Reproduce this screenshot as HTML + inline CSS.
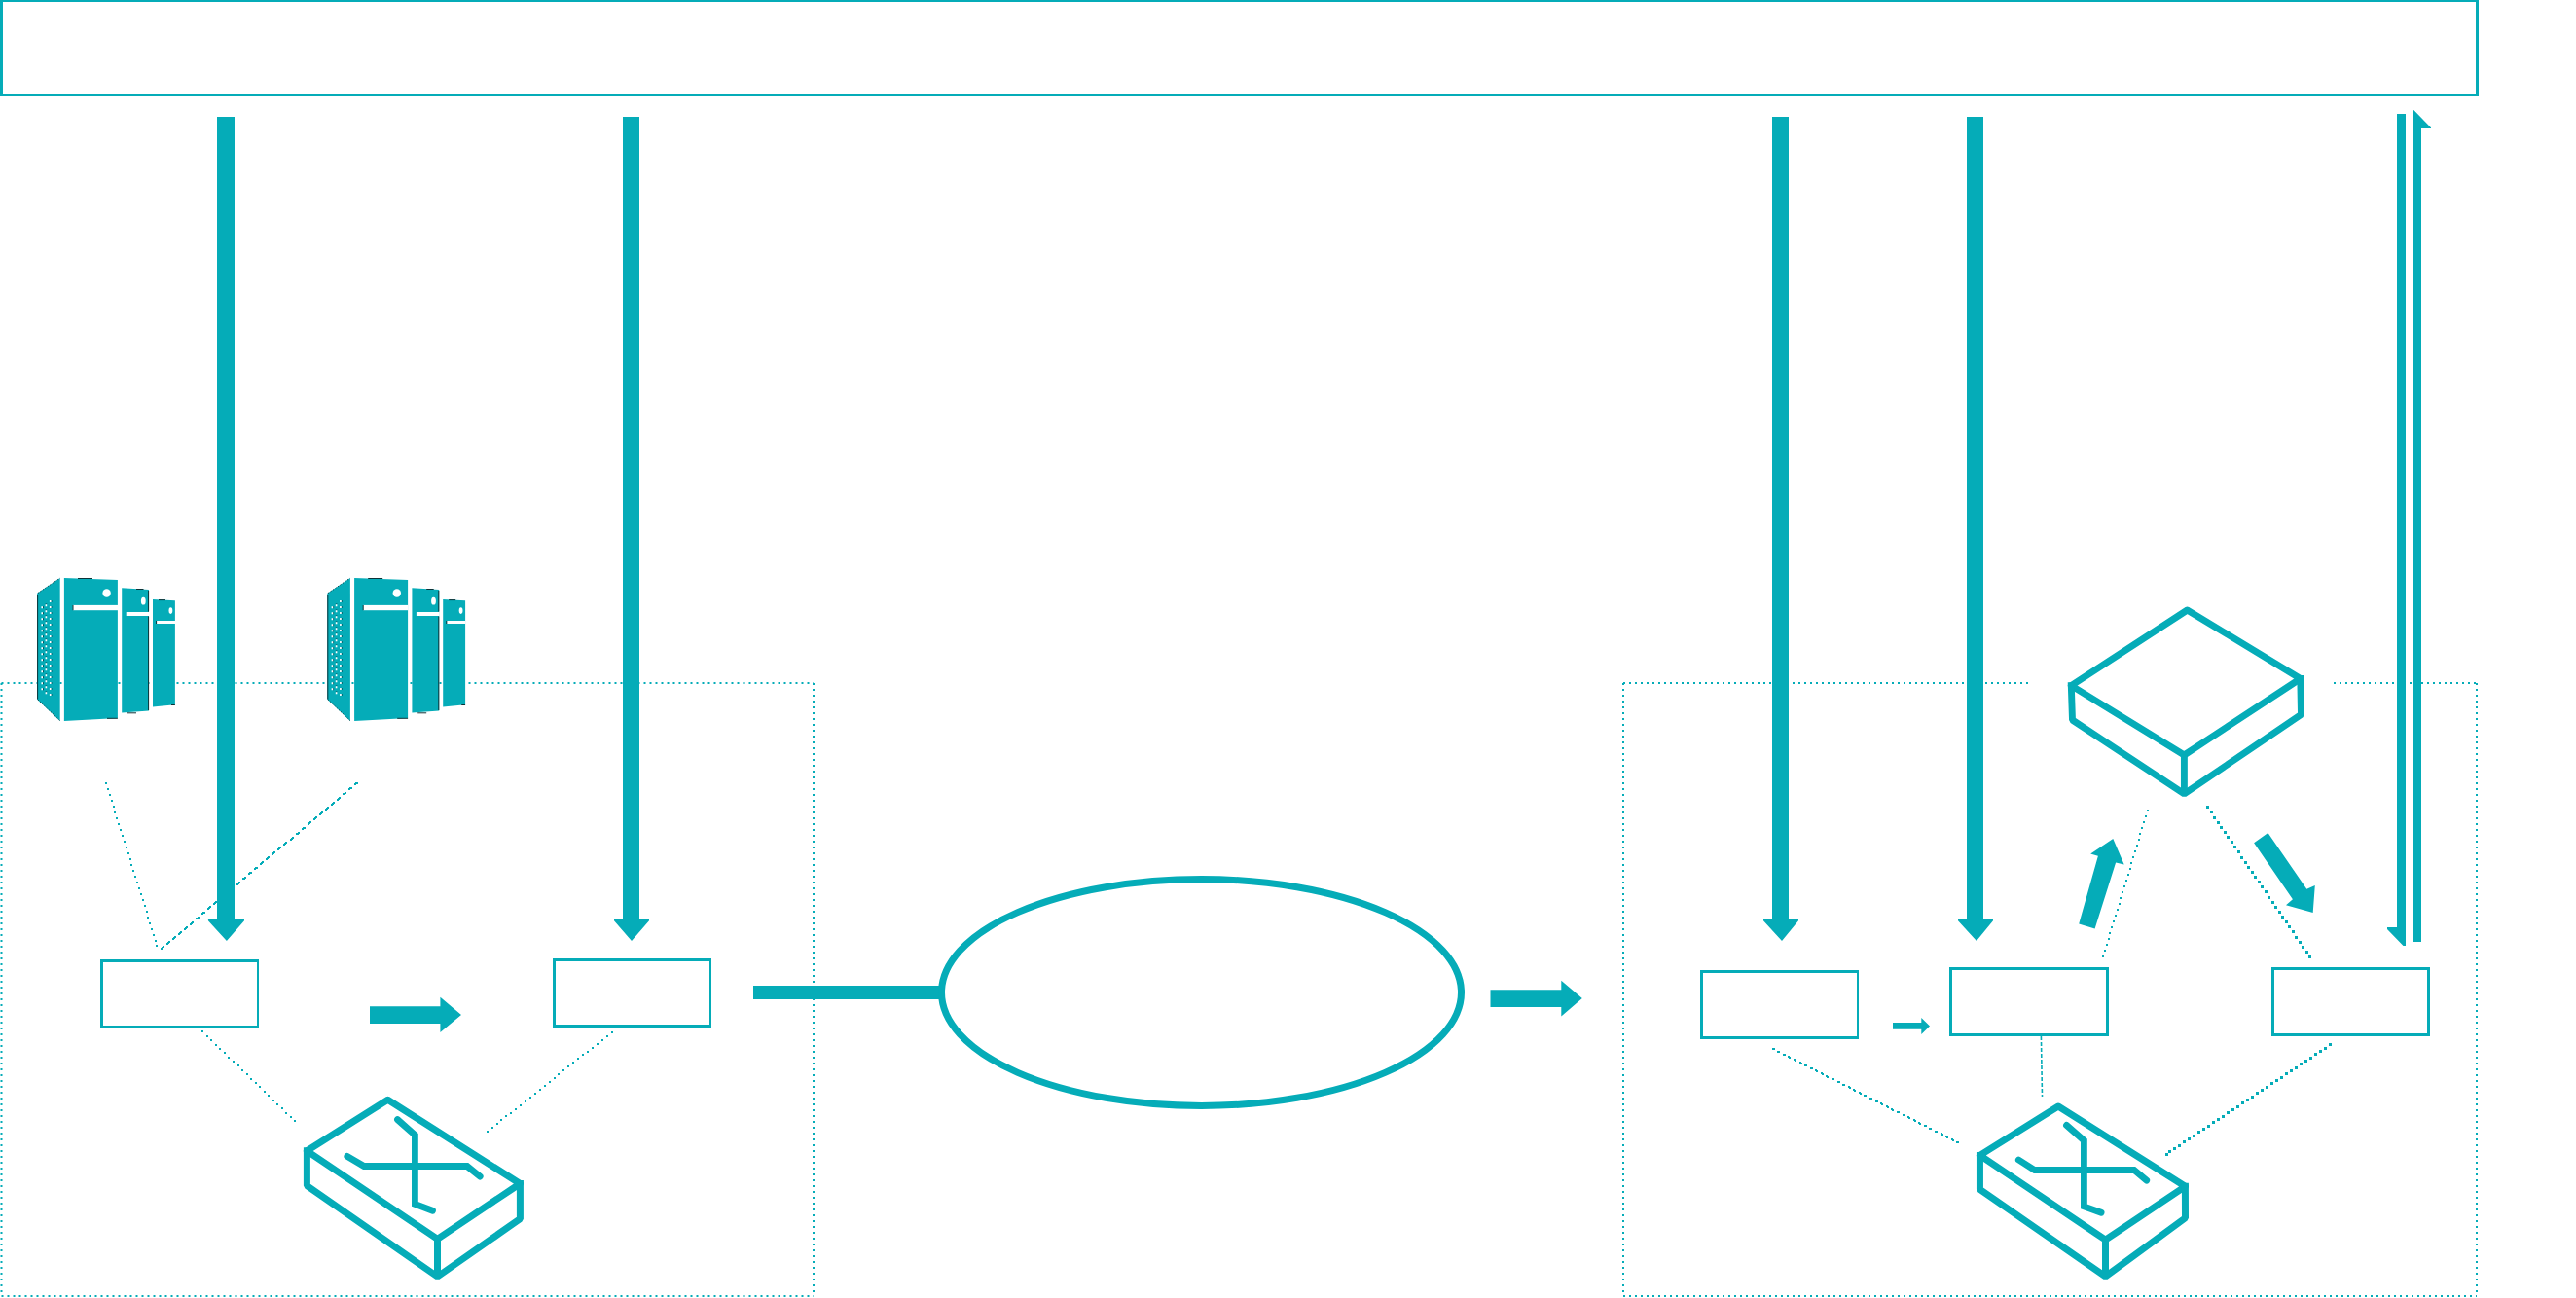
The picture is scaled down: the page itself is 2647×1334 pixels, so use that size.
<!DOCTYPE html>
<html><head><meta charset="utf-8"><style>
html,body{margin:0;padding:0;background:#fff;}
body{width:2647px;height:1334px;overflow:hidden;font-family:"Liberation Sans",sans-serif;}
svg{display:block;}
</style></head><body>
<svg width="2647" height="1334" viewBox="0 0 2647 1334">
<path d="M1.5 702H836M1.5 702V1332M836 702V1332M1.5 1332H836" stroke="#05acb8" stroke-width="2" stroke-dasharray="2 4" fill="none"/>
<path d="M1668 702H2087M2398 702H2545M1668 702V1332M2545 702V1332M1668 1332H2545" stroke="#05acb8" stroke-width="2" stroke-dasharray="2 4" fill="none"/>
<path d="M108 804h2v2h-2zM110 810h2v2h-2zM112 816h2v2h-2zM114 822h2v2h-2zM116 828h2v2h-2zM117 834h2v2h-2zM119 840h2v2h-2zM121 846h2v2h-2zM123 852h2v2h-2zM125 858h2v2h-2zM127 864h2v2h-2zM129 870h2v2h-2zM131 876h2v2h-2zM133 882h2v2h-2zM134 888h2v2h-2zM136 894h2v2h-2zM138 900h2v2h-2zM140 906h2v2h-2zM142 912h2v2h-2zM144 918h2v2h-2zM146 924h2v2h-2zM148 930h2v2h-2zM150 936h2v2h-2zM151 942h2v2h-2zM153 948h2v2h-2zM155 954h2v2h-2zM157 960h2v2h-2zM159 966h2v2h-2zM160 971h2v2h-2z" fill="#05acb8" shape-rendering="crispEdges"/>
<path d="M366 804h2v2h-2zM365 804h2v2h-2zM364 805h2v2h-2zM360 809h2v2h-2zM359 809h2v2h-2zM358 810h2v2h-2zM354 814h2v2h-2zM353 815h2v2h-2zM352 815h2v2h-2zM348 819h2v2h-2zM347 820h2v2h-2zM346 821h2v2h-2zM342 824h2v2h-2zM341 825h2v2h-2zM340 826h2v2h-2zM336 829h2v2h-2zM335 830h2v2h-2zM334 831h2v2h-2zM330 834h2v2h-2zM329 835h2v2h-2zM328 836h2v2h-2zM324 839h2v2h-2zM323 840h2v2h-2zM322 841h2v2h-2zM318 844h2v2h-2zM317 845h2v2h-2zM316 846h2v2h-2zM312 850h2v2h-2zM311 850h2v2h-2zM310 851h2v2h-2zM306 855h2v2h-2zM305 856h2v2h-2zM304 856h2v2h-2zM300 860h2v2h-2zM299 861h2v2h-2zM298 862h2v2h-2zM293 865h2v2h-2zM292 866h2v2h-2zM291 867h2v2h-2zM287 870h2v2h-2zM286 871h2v2h-2zM285 872h2v2h-2zM281 875h2v2h-2zM280 876h2v2h-2zM279 877h2v2h-2zM275 880h2v2h-2zM274 881h2v2h-2zM273 882h2v2h-2zM269 885h2v2h-2zM268 886h2v2h-2zM267 887h2v2h-2zM263 891h2v2h-2zM262 891h2v2h-2zM261 892h2v2h-2zM257 896h2v2h-2zM256 896h2v2h-2zM255 897h2v2h-2zM251 901h2v2h-2zM250 902h2v2h-2zM249 902h2v2h-2zM245 906h2v2h-2zM244 907h2v2h-2zM243 908h2v2h-2zM239 911h2v2h-2zM238 912h2v2h-2zM237 913h2v2h-2zM233 916h2v2h-2zM232 917h2v2h-2zM231 918h2v2h-2zM227 921h2v2h-2zM226 922h2v2h-2zM225 923h2v2h-2zM221 926h2v2h-2zM220 927h2v2h-2zM219 928h2v2h-2zM215 931h2v2h-2zM214 932h2v2h-2zM213 933h2v2h-2zM209 937h2v2h-2zM208 937h2v2h-2zM207 938h2v2h-2zM203 942h2v2h-2zM202 943h2v2h-2zM201 943h2v2h-2zM197 947h2v2h-2zM196 948h2v2h-2zM195 949h2v2h-2zM191 952h2v2h-2zM190 953h2v2h-2zM189 954h2v2h-2zM185 957h2v2h-2zM184 958h2v2h-2zM183 959h2v2h-2zM179 962h2v2h-2zM178 963h2v2h-2zM177 964h2v2h-2zM173 967h2v2h-2zM172 968h2v2h-2zM171 969h2v2h-2zM167 972h2v2h-2zM166 973h2v2h-2zM165 974h2v2h-2z" fill="#05acb8" shape-rendering="crispEdges"/>
<path d="M207 1059h2v2h-2zM212 1064h2v2h-2zM216 1068h2v2h-2zM221 1073h2v2h-2zM225 1077h2v2h-2zM230 1081h2v2h-2zM234 1086h2v2h-2zM239 1090h2v2h-2zM244 1094h2v2h-2zM248 1099h2v2h-2zM253 1103h2v2h-2zM257 1108h2v2h-2zM262 1112h2v2h-2zM266 1116h2v2h-2zM271 1121h2v2h-2zM275 1125h2v2h-2zM280 1130h2v2h-2zM284 1134h2v2h-2zM289 1138h2v2h-2zM293 1143h2v2h-2zM298 1147h2v2h-2zM302 1151h2v2h-2z" fill="#05acb8" shape-rendering="crispEdges"/>
<path d="M628 1060h2v2h-2zM623 1064h2v2h-2zM618 1068h2v2h-2zM613 1072h2v2h-2zM608 1076h2v2h-2zM603 1080h2v2h-2zM598 1083h2v2h-2zM593 1087h2v2h-2zM588 1091h2v2h-2zM583 1095h2v2h-2zM578 1099h2v2h-2zM573 1103h2v2h-2zM569 1107h2v2h-2zM564 1111h2v2h-2zM559 1115h2v2h-2zM554 1119h2v2h-2zM549 1123h2v2h-2zM544 1127h2v2h-2zM539 1131h2v2h-2zM534 1135h2v2h-2zM529 1139h2v2h-2zM524 1143h2v2h-2zM519 1146h2v2h-2zM514 1150h2v2h-2zM510 1154h2v2h-2zM505 1158h2v2h-2zM500 1162h2v2h-2z" fill="#05acb8" shape-rendering="crispEdges"/>
<path d="M1821 1077h2v2h-2zM1822 1077h2v2h-2zM1826 1080h2v2h-2zM1827 1080h2v2h-2zM1832 1083h2v2h-2zM1833 1083h2v2h-2zM1837 1085h2v2h-2zM1838 1086h2v2h-2zM1843 1088h2v2h-2zM1844 1089h2v2h-2zM1849 1091h2v2h-2zM1850 1092h2v2h-2zM1854 1094h2v2h-2zM1855 1094h2v2h-2zM1860 1097h2v2h-2zM1861 1097h2v2h-2zM1865 1099h2v2h-2zM1866 1100h2v2h-2zM1871 1102h2v2h-2zM1872 1103h2v2h-2zM1876 1105h2v2h-2zM1877 1106h2v2h-2zM1882 1108h2v2h-2zM1883 1108h2v2h-2zM1888 1111h2v2h-2zM1889 1111h2v2h-2zM1893 1114h2v2h-2zM1894 1114h2v2h-2zM1899 1116h2v2h-2zM1900 1117h2v2h-2zM1904 1119h2v2h-2zM1905 1120h2v2h-2zM1910 1122h2v2h-2zM1911 1123h2v2h-2zM1915 1125h2v2h-2zM1916 1125h2v2h-2zM1921 1128h2v2h-2zM1922 1128h2v2h-2zM1927 1131h2v2h-2zM1928 1131h2v2h-2zM1932 1133h2v2h-2zM1933 1134h2v2h-2zM1938 1136h2v2h-2zM1939 1137h2v2h-2zM1943 1139h2v2h-2zM1944 1140h2v2h-2zM1949 1142h2v2h-2zM1950 1142h2v2h-2zM1955 1145h2v2h-2zM1956 1145h2v2h-2zM1960 1147h2v2h-2zM1961 1148h2v2h-2zM1966 1150h2v2h-2zM1967 1151h2v2h-2zM1971 1153h2v2h-2zM1972 1154h2v2h-2zM1977 1156h2v2h-2zM1978 1156h2v2h-2zM1982 1159h2v2h-2zM1983 1159h2v2h-2zM1988 1162h2v2h-2zM1989 1162h2v2h-2zM1994 1164h2v2h-2zM1995 1165h2v2h-2zM1999 1167h2v2h-2zM2000 1168h2v2h-2zM2005 1170h2v2h-2zM2006 1171h2v2h-2zM2010 1173h2v2h-2zM2011 1173h2v2h-2z" fill="#05acb8" shape-rendering="crispEdges"/>
<line x1="2097.4" y1="1065" x2="2098.5" y2="1127" stroke="#05acb8" stroke-width="1.6" stroke-dasharray="4 2"/>
<path d="M2393 1072h2.8v2.8h-2.8zM2388 1076h2.8v2.8h-2.8zM2383 1079h2.8v2.8h-2.8zM2378 1082h2.8v2.8h-2.8zM2373 1086h2.8v2.8h-2.8zM2368 1089h2.8v2.8h-2.8zM2363 1092h2.8v2.8h-2.8zM2358 1096h2.8v2.8h-2.8zM2353 1099h2.8v2.8h-2.8zM2348 1102h2.8v2.8h-2.8zM2343 1106h2.8v2.8h-2.8zM2338 1109h2.8v2.8h-2.8zM2333 1112h2.8v2.8h-2.8zM2328 1116h2.8v2.8h-2.8zM2323 1119h2.8v2.8h-2.8zM2318 1122h2.8v2.8h-2.8zM2313 1126h2.8v2.8h-2.8zM2308 1129h2.8v2.8h-2.8zM2303 1132h2.8v2.8h-2.8zM2298 1136h2.8v2.8h-2.8zM2293 1139h2.8v2.8h-2.8zM2288 1142h2.8v2.8h-2.8zM2283 1146h2.8v2.8h-2.8zM2278 1149h2.8v2.8h-2.8zM2273 1152h2.8v2.8h-2.8zM2268 1156h2.8v2.8h-2.8zM2263 1159h2.8v2.8h-2.8zM2258 1162h2.8v2.8h-2.8zM2253 1166h2.8v2.8h-2.8zM2248 1169h2.8v2.8h-2.8zM2243 1172h2.8v2.8h-2.8zM2238 1176h2.8v2.8h-2.8zM2233 1179h2.8v2.8h-2.8zM2228 1182h2.8v2.8h-2.8zM2225 1185h2.8v2.8h-2.8z" fill="#05acb8" shape-rendering="crispEdges"/>
<path d="M2160 982h2.2v2.2h-2.2zM2162 976h2.2v2.2h-2.2zM2164 970h2.2v2.2h-2.2zM2166 964h2.2v2.2h-2.2zM2167 958h2.2v2.2h-2.2zM2169 952h2.2v2.2h-2.2zM2171 946h2.2v2.2h-2.2zM2173 940h2.2v2.2h-2.2zM2175 934h2.2v2.2h-2.2zM2177 928h2.2v2.2h-2.2zM2178 922h2.2v2.2h-2.2zM2180 916h2.2v2.2h-2.2zM2182 910h2.2v2.2h-2.2zM2184 904h2.2v2.2h-2.2zM2186 898h2.2v2.2h-2.2zM2188 892h2.2v2.2h-2.2zM2189 886h2.2v2.2h-2.2zM2191 880h2.2v2.2h-2.2zM2193 874h2.2v2.2h-2.2zM2195 868h2.2v2.2h-2.2zM2197 862h2.2v2.2h-2.2zM2198 856h2.2v2.2h-2.2zM2200 850h2.2v2.2h-2.2zM2202 844h2.2v2.2h-2.2zM2204 838h2.2v2.2h-2.2zM2206 832h2.2v2.2h-2.2z" fill="#05acb8" shape-rendering="crispEdges"/>
<path d="M2267 828h2.6v2.6h-2.6zM2271 833h2.6v2.6h-2.6zM2274 839h2.6v2.6h-2.6zM2278 844h2.6v2.6h-2.6zM2281 849h2.6v2.6h-2.6zM2285 854h2.6v2.6h-2.6zM2288 859h2.6v2.6h-2.6zM2292 864h2.6v2.6h-2.6zM2295 869h2.6v2.6h-2.6zM2299 874h2.6v2.6h-2.6zM2302 880h2.6v2.6h-2.6zM2306 885h2.6v2.6h-2.6zM2309 890h2.6v2.6h-2.6zM2313 895h2.6v2.6h-2.6zM2316 900h2.6v2.6h-2.6zM2320 905h2.6v2.6h-2.6zM2323 910h2.6v2.6h-2.6zM2327 915h2.6v2.6h-2.6zM2330 921h2.6v2.6h-2.6zM2334 926h2.6v2.6h-2.6zM2337 931h2.6v2.6h-2.6zM2341 936h2.6v2.6h-2.6zM2344 941h2.6v2.6h-2.6zM2348 946h2.6v2.6h-2.6zM2351 951h2.6v2.6h-2.6zM2355 956h2.6v2.6h-2.6zM2358 962h2.6v2.6h-2.6zM2362 967h2.6v2.6h-2.6zM2365 972h2.6v2.6h-2.6zM2369 977h2.6v2.6h-2.6zM2372 982h2.6v2.6h-2.6z" fill="#05acb8" shape-rendering="crispEdges"/>
<path d="M0 0H2547V2H0Z M0 97H2547V99H0Z M0 0H3V99H0Z M2544 0H2547V99H2544Z" fill="#05acb8"/>
<polygon points="223,120 241,120 241,945 251,945 251,946.3 232.9,967 213.9,946.3 213.9,945 223,945" fill="#05acb8"/>
<polygon points="640,120 657,120 657,945 667,945 667,946.3 649,967 631,946.3 631,945 640,945" fill="#05acb8"/>
<polygon points="1821,120 1838,120 1838,945 1848,945 1848,946.3 1831,967 1812,946.3 1812,945 1821,945" fill="#05acb8"/>
<polygon points="2021,120 2038,120 2038,945 2048,945 2048,946.3 2031,967 2012,946.3 2012,945 2021,945" fill="#05acb8"/>
<polygon points="2463,117 2472,117 2472,972 2469.5,972 2453,955 2453,953 2463,953" fill="#05acb8"/>
<polygon points="2479,968 2488,968 2488,132 2498,132 2498,131.2 2480.3,113 2479,114.5" fill="#05acb8"/>
<polygon points="380,1034.2 452.4,1034.2 452.4,1024.7 474,1043 452.4,1061.1 452.4,1052 380,1052" fill="#05acb8"/>
<polygon points="1531.5,1017.2 1604.3,1017.2 1604.3,1007.7 1625.8,1026 1604.3,1044.4 1604.3,1034.9 1531.5,1034.9" fill="#05acb8"/>
<polygon points="1945,1051 1974.3,1051 1974.3,1045.9 1983,1054.4 1974.3,1062.9 1974.3,1057.8 1945,1057.8" fill="#05acb8"/>
<rect x="774" y="1013" width="193" height="14" fill="#05acb8"/>
<ellipse cx="1234.5" cy="1020" rx="267" ry="116.5" fill="none" stroke="#05acb8" stroke-width="7"/>
<path d="M103 986H266V989H103Z M103 1054H266V1057H103Z M103 986H106V1057H103Z M264 986H266V1057H264Z" fill="#05acb8"/>
<path d="M568 985H731V988H568Z M568 1053H731V1056H568Z M568 985H571V1056H568Z M729 985H731V1056H729Z" fill="#05acb8"/>
<path d="M1747 997H1910V1000H1747Z M1747 1065H1910V1068H1747Z M1747 997H1750V1068H1747Z M1908 997H1910V1068H1908Z" fill="#05acb8"/>
<path d="M2003 994H2167V997H2003Z M2003 1062H2167V1065H2003Z M2003 994H2006V1065H2003Z M2164 994H2167V1065H2164Z" fill="#05acb8"/>
<path d="M2334 994H2497V997H2334Z M2334 1062H2497V1065H2334Z M2334 994H2337V1065H2334Z M2494 994H2497V1065H2494Z" fill="#05acb8"/>
<polygon points="2136.2,949.4 2155.9,879.8 2148.2,877.5 2171.3,862 2182.7,888.4 2174.1,886.4 2152.6,954.5" fill="#05acb8"/>
<polygon points="2316.1,866.3 2330.5,856.1 2370.3,913.7 2378.8,909.9 2376.7,937.9 2349,930.3 2355.9,924.3" fill="#05acb8"/>
<path d="M2247.5 627L2363.8 697.5L2244.4 776L2128.3 704.6Z" fill="none" stroke="#05acb8" stroke-width="6.9" stroke-linejoin="round"/><path d="M2128.3 704.6L2129.5 740L2244.4 815.9L2364.5 734.4L2363.8 697.5" fill="none" stroke="#05acb8" stroke-width="6.9" stroke-linejoin="bevel" stroke-linecap="square"/><path d="M2244.4 776L2244.4 815.9" fill="none" stroke="#05acb8" stroke-width="6.9"/>
<path d="M398.5 1130.3L534.4 1216.5L449.5 1273.3L315.4 1182.8Z" fill="none" stroke="#05acb8" stroke-width="7.0" stroke-linejoin="round"/><path d="M315.4 1182.8L315.4 1218.6L449.5 1312L534.4 1252.7L534.4 1216.5" fill="none" stroke="#05acb8" stroke-width="7.0" stroke-linejoin="bevel" stroke-linecap="square"/><path d="M449.5 1273.3L449.5 1312" fill="none" stroke="#05acb8" stroke-width="7.0"/><path d="M356.8 1188.3L374 1198.5L480 1198.5L493.2 1209.1 M408.5 1150.6L426.4 1166.5L426.4 1237.5L444.5 1244.2" fill="none" stroke="#05acb8" stroke-width="6.8" stroke-linecap="round" stroke-linejoin="miter"/>
<path d="M2115 1137L2245.4 1219.3L2163.5 1274.2L2034.45 1187.4Z" fill="none" stroke="#05acb8" stroke-width="7.0" stroke-linejoin="round"/><path d="M2034.45 1187.4L2034.45 1222.4L2163.5 1311.9L2245.5 1251.8L2245.4 1219.3" fill="none" stroke="#05acb8" stroke-width="7.0" stroke-linejoin="bevel" stroke-linecap="square"/><path d="M2163.5 1274.2L2163.5 1311.9" fill="none" stroke="#05acb8" stroke-width="7.0"/><path d="M2074.3 1192L2090.8 1202.5L2192.9 1202.5L2205.7 1213.2 M2123.5 1156.4L2141.4 1172.1L2141.4 1239.9L2159.1 1246.3" fill="none" stroke="#05acb8" stroke-width="6.8" stroke-linecap="round" stroke-linejoin="miter"/>
<g transform="translate(0,0)"><polygon points="38.1,609.8 61.7,593.9 61.7,740.9 38.1,718.7" fill="#05acb8"/><polygon points="65.9,593.9 120.9,596 120.9,738.1 65.9,740.9" fill="#05acb8"/><polygon points="125.2,604.3 153,606 153,730.5 125.2,732.6" fill="#05acb8"/><polygon points="157,616 179.9,617.2 179.9,724.2 157,726.6" fill="#05acb8"/><circle cx="109.6" cy="609.5" r="4.2" fill="#fff"/><rect x="74.9" y="621.9" width="46.2" height="5.3" fill="#fff"/><ellipse cx="147.3" cy="617.7" rx="2.4" ry="3.9" fill="#fff"/><rect x="129.7" y="629" width="23.5" height="4" fill="#fff"/><ellipse cx="175.4" cy="627.6" rx="1.9" ry="3.3" fill="#fff"/><rect x="160.9" y="638" width="19.2" height="3" fill="#fff"/><path d="M44.0 623.3h0.9v2h-0.9zM44.0 629.3h0.9v2h-0.9zM44.0 635.3h0.9v2h-0.9zM44.0 641.3h0.9v2h-0.9zM44.0 647.3h0.9v2h-0.9zM44.0 653.3h0.9v2h-0.9zM44.0 659.3h0.9v2h-0.9zM44.0 665.3h0.9v2h-0.9zM44.0 671.3h0.9v2h-0.9zM44.0 677.3h0.9v2h-0.9zM44.0 683.3h0.9v2h-0.9zM44.0 689.3h0.9v2h-0.9zM44.0 695.3h0.9v2h-0.9zM44.0 701.3h0.9v2h-0.9zM44.0 707.3h0.9v2h-0.9zM46.6 620.4h1.6v0.9h-1.6zM46.6 626.4h1.6v0.9h-1.6zM46.6 632.4h1.6v0.9h-1.6zM46.6 638.4h1.6v0.9h-1.6zM46.6 644.4h1.6v0.9h-1.6zM46.6 650.4h1.6v0.9h-1.6zM46.6 656.4h1.6v0.9h-1.6zM46.6 662.4h1.6v0.9h-1.6zM46.6 668.4h1.6v0.9h-1.6zM46.6 674.4h1.6v0.9h-1.6zM46.6 680.4h1.6v0.9h-1.6zM46.6 686.4h1.6v0.9h-1.6zM46.6 692.4h1.6v0.9h-1.6zM46.6 698.4h1.6v0.9h-1.6zM46.6 704.4h1.6v0.9h-1.6zM46.6 710.4h1.6v0.9h-1.6zM52.5 617.0h0.9v2h-0.9zM52.5 623.0h0.9v2h-0.9zM52.5 629.0h0.9v2h-0.9zM52.5 635.0h0.9v2h-0.9zM52.5 641.0h0.9v2h-0.9zM52.5 647.0h0.9v2h-0.9zM52.5 653.0h0.9v2h-0.9zM52.5 659.0h0.9v2h-0.9zM52.5 665.0h0.9v2h-0.9zM52.5 671.0h0.9v2h-0.9zM52.5 677.0h0.9v2h-0.9zM52.5 683.0h0.9v2h-0.9zM52.5 689.0h0.9v2h-0.9zM52.5 695.0h0.9v2h-0.9zM52.5 701.0h0.9v2h-0.9zM52.5 707.0h0.9v2h-0.9zM52.5 713.0h0.9v2h-0.9z" fill="#0d3338" opacity="0.85"/><path d="M42.4 623.3h1.6v2h-1.6zM42.4 629.3h1.6v2h-1.6zM42.4 635.3h1.6v2h-1.6zM42.4 641.3h1.6v2h-1.6zM42.4 647.3h1.6v2h-1.6zM42.4 653.3h1.6v2h-1.6zM42.4 659.3h1.6v2h-1.6zM42.4 665.3h1.6v2h-1.6zM42.4 671.3h1.6v2h-1.6zM42.4 677.3h1.6v2h-1.6zM42.4 683.3h1.6v2h-1.6zM42.4 689.3h1.6v2h-1.6zM42.4 695.3h1.6v2h-1.6zM42.4 701.3h1.6v2h-1.6zM42.4 707.3h1.6v2h-1.6zM46.6 621.3h1.6v2h-1.6zM46.6 627.3h1.6v2h-1.6zM46.6 633.3h1.6v2h-1.6zM46.6 639.3h1.6v2h-1.6zM46.6 645.3h1.6v2h-1.6zM46.6 651.3h1.6v2h-1.6zM46.6 657.3h1.6v2h-1.6zM46.6 663.3h1.6v2h-1.6zM46.6 669.3h1.6v2h-1.6zM46.6 675.3h1.6v2h-1.6zM46.6 681.3h1.6v2h-1.6zM46.6 687.3h1.6v2h-1.6zM46.6 693.3h1.6v2h-1.6zM46.6 699.3h1.6v2h-1.6zM46.6 705.3h1.6v2h-1.6zM46.6 711.3h1.6v2h-1.6zM50.9 617.0h1.6v2h-1.6zM50.9 623.0h1.6v2h-1.6zM50.9 629.0h1.6v2h-1.6zM50.9 635.0h1.6v2h-1.6zM50.9 641.0h1.6v2h-1.6zM50.9 647.0h1.6v2h-1.6zM50.9 653.0h1.6v2h-1.6zM50.9 659.0h1.6v2h-1.6zM50.9 665.0h1.6v2h-1.6zM50.9 671.0h1.6v2h-1.6zM50.9 677.0h1.6v2h-1.6zM50.9 683.0h1.6v2h-1.6zM50.9 689.0h1.6v2h-1.6zM50.9 695.0h1.6v2h-1.6zM50.9 701.0h1.6v2h-1.6zM50.9 707.0h1.6v2h-1.6zM50.9 713.0h1.6v2h-1.6z" fill="#fff"/><path d="M38.6 611V718.5M80 594.5H95M110 738.3H120.9M75 622V627.2M140 605.5H147.5M152.6 607V628.5M152.6 633.5V730M160.6 638V641M131 732.8H140M163 616.6H170M176 724.5H179.9" stroke="#0d3338" stroke-width="1" fill="none"/><path d="M39 609.5L61.5 594.2M39 719L61.5 740.5" stroke="#0d3338" stroke-width="1" stroke-dasharray="1 2" fill="none"/></g>
<g transform="translate(298.2,0)"><polygon points="38.1,609.8 61.7,593.9 61.7,740.9 38.1,718.7" fill="#05acb8"/><polygon points="65.9,593.9 120.9,596 120.9,738.1 65.9,740.9" fill="#05acb8"/><polygon points="125.2,604.3 153,606 153,730.5 125.2,732.6" fill="#05acb8"/><polygon points="157,616 179.9,617.2 179.9,724.2 157,726.6" fill="#05acb8"/><circle cx="109.6" cy="609.5" r="4.2" fill="#fff"/><rect x="74.9" y="621.9" width="46.2" height="5.3" fill="#fff"/><ellipse cx="147.3" cy="617.7" rx="2.4" ry="3.9" fill="#fff"/><rect x="129.7" y="629" width="23.5" height="4" fill="#fff"/><ellipse cx="175.4" cy="627.6" rx="1.9" ry="3.3" fill="#fff"/><rect x="160.9" y="638" width="19.2" height="3" fill="#fff"/><path d="M44.0 623.3h0.9v2h-0.9zM44.0 629.3h0.9v2h-0.9zM44.0 635.3h0.9v2h-0.9zM44.0 641.3h0.9v2h-0.9zM44.0 647.3h0.9v2h-0.9zM44.0 653.3h0.9v2h-0.9zM44.0 659.3h0.9v2h-0.9zM44.0 665.3h0.9v2h-0.9zM44.0 671.3h0.9v2h-0.9zM44.0 677.3h0.9v2h-0.9zM44.0 683.3h0.9v2h-0.9zM44.0 689.3h0.9v2h-0.9zM44.0 695.3h0.9v2h-0.9zM44.0 701.3h0.9v2h-0.9zM44.0 707.3h0.9v2h-0.9zM46.6 620.4h1.6v0.9h-1.6zM46.6 626.4h1.6v0.9h-1.6zM46.6 632.4h1.6v0.9h-1.6zM46.6 638.4h1.6v0.9h-1.6zM46.6 644.4h1.6v0.9h-1.6zM46.6 650.4h1.6v0.9h-1.6zM46.6 656.4h1.6v0.9h-1.6zM46.6 662.4h1.6v0.9h-1.6zM46.6 668.4h1.6v0.9h-1.6zM46.6 674.4h1.6v0.9h-1.6zM46.6 680.4h1.6v0.9h-1.6zM46.6 686.4h1.6v0.9h-1.6zM46.6 692.4h1.6v0.9h-1.6zM46.6 698.4h1.6v0.9h-1.6zM46.6 704.4h1.6v0.9h-1.6zM46.6 710.4h1.6v0.9h-1.6zM52.5 617.0h0.9v2h-0.9zM52.5 623.0h0.9v2h-0.9zM52.5 629.0h0.9v2h-0.9zM52.5 635.0h0.9v2h-0.9zM52.5 641.0h0.9v2h-0.9zM52.5 647.0h0.9v2h-0.9zM52.5 653.0h0.9v2h-0.9zM52.5 659.0h0.9v2h-0.9zM52.5 665.0h0.9v2h-0.9zM52.5 671.0h0.9v2h-0.9zM52.5 677.0h0.9v2h-0.9zM52.5 683.0h0.9v2h-0.9zM52.5 689.0h0.9v2h-0.9zM52.5 695.0h0.9v2h-0.9zM52.5 701.0h0.9v2h-0.9zM52.5 707.0h0.9v2h-0.9zM52.5 713.0h0.9v2h-0.9z" fill="#0d3338" opacity="0.85"/><path d="M42.4 623.3h1.6v2h-1.6zM42.4 629.3h1.6v2h-1.6zM42.4 635.3h1.6v2h-1.6zM42.4 641.3h1.6v2h-1.6zM42.4 647.3h1.6v2h-1.6zM42.4 653.3h1.6v2h-1.6zM42.4 659.3h1.6v2h-1.6zM42.4 665.3h1.6v2h-1.6zM42.4 671.3h1.6v2h-1.6zM42.4 677.3h1.6v2h-1.6zM42.4 683.3h1.6v2h-1.6zM42.4 689.3h1.6v2h-1.6zM42.4 695.3h1.6v2h-1.6zM42.4 701.3h1.6v2h-1.6zM42.4 707.3h1.6v2h-1.6zM46.6 621.3h1.6v2h-1.6zM46.6 627.3h1.6v2h-1.6zM46.6 633.3h1.6v2h-1.6zM46.6 639.3h1.6v2h-1.6zM46.6 645.3h1.6v2h-1.6zM46.6 651.3h1.6v2h-1.6zM46.6 657.3h1.6v2h-1.6zM46.6 663.3h1.6v2h-1.6zM46.6 669.3h1.6v2h-1.6zM46.6 675.3h1.6v2h-1.6zM46.6 681.3h1.6v2h-1.6zM46.6 687.3h1.6v2h-1.6zM46.6 693.3h1.6v2h-1.6zM46.6 699.3h1.6v2h-1.6zM46.6 705.3h1.6v2h-1.6zM46.6 711.3h1.6v2h-1.6zM50.9 617.0h1.6v2h-1.6zM50.9 623.0h1.6v2h-1.6zM50.9 629.0h1.6v2h-1.6zM50.9 635.0h1.6v2h-1.6zM50.9 641.0h1.6v2h-1.6zM50.9 647.0h1.6v2h-1.6zM50.9 653.0h1.6v2h-1.6zM50.9 659.0h1.6v2h-1.6zM50.9 665.0h1.6v2h-1.6zM50.9 671.0h1.6v2h-1.6zM50.9 677.0h1.6v2h-1.6zM50.9 683.0h1.6v2h-1.6zM50.9 689.0h1.6v2h-1.6zM50.9 695.0h1.6v2h-1.6zM50.9 701.0h1.6v2h-1.6zM50.9 707.0h1.6v2h-1.6zM50.9 713.0h1.6v2h-1.6z" fill="#fff"/><path d="M38.6 611V718.5M80 594.5H95M110 738.3H120.9M75 622V627.2M140 605.5H147.5M152.6 607V628.5M152.6 633.5V730M160.6 638V641M131 732.8H140M163 616.6H170M176 724.5H179.9" stroke="#0d3338" stroke-width="1" fill="none"/><path d="M39 609.5L61.5 594.2M39 719L61.5 740.5" stroke="#0d3338" stroke-width="1" stroke-dasharray="1 2" fill="none"/></g>
</svg>
</body></html>
